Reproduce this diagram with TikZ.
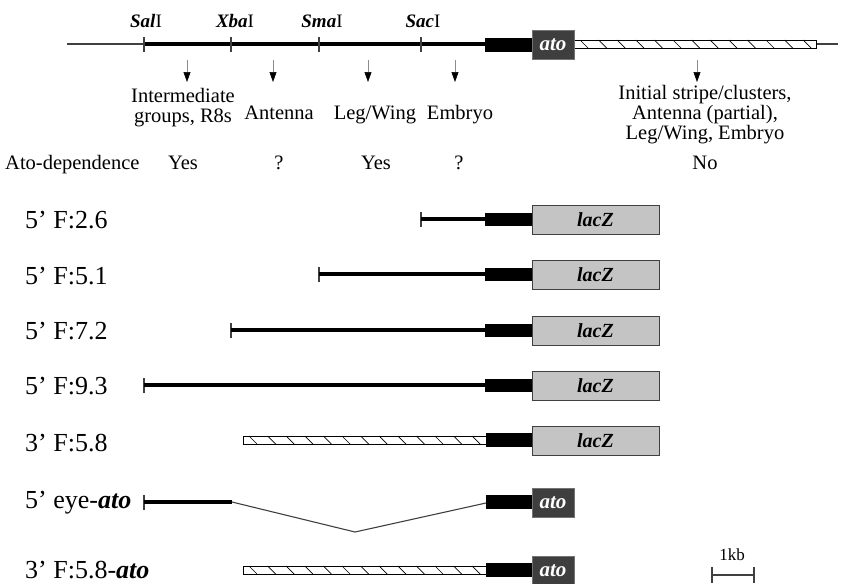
\documentclass[tikz,border=0pt]{standalone}
\usepackage{fontspec}
\setmainfont{Liberation Serif}
\usetikzlibrary{arrows.meta}

\definecolor{lacgray}{RGB}{196,196,196}
\definecolor{atogray}{RGB}{62,62,62}

\tikzset{
  smalltext/.style={font=\fontsize{20.5}{20}\selectfont, align=center, inner sep=0pt},
  bigtext/.style={font=\fontsize{26}{30}\selectfont, inner sep=0pt, anchor=base west},
  sitetext/.style={font=\fontsize{19}{20}\selectfont, inner sep=0pt, anchor=base},
  thinline/.style={line width=1.1pt, black!75},
  thickline/.style={line width=3.6pt},
  sitetick/.style={line width=1.4pt, black!75},
  lacbox/.style={draw=black!75, fill=lacgray, line width=1pt, minimum width=127pt,
                 minimum height=29pt, inner sep=0pt,
                 font=\fontsize{20}{20}\selectfont\bfseries\itshape},
  atobox/.style={draw=black!55, fill=atogray, text=white, line width=1pt, minimum width=42pt,
                 minimum height=29pt, inner sep=0pt,
                 font=\fontsize{21}{21}\selectfont\bfseries\itshape},
  featarrow/.style={black!45, line width=0.6pt, -{Triangle[black, width=7pt, length=10pt]}}
}

% hatched 3' fragment: from x=#1 to x=#2 at height #3
\newcommand{\hatchbar}[3]{%
  \draw[line width=0.8pt, fill=white] (#1,#3-4) rectangle (#2,#3+4);
  \foreach \k in {0,...,12}
    \draw[line width=0.7pt] (#1+6+\k*18.6,#3-4) -- ++(8,8);
}

\begin{document}
\begin{tikzpicture}[x=1pt, y=-1pt]
  \useasboundingbox (0,0) rectangle (847,584);

  % genomic map of the ato locus
  \draw[thinline] (67,44) -- (838,44);
  \draw[thickline] (144,44) -- (485,44);
  \foreach \x in {144,231,319,421}
    \draw[sitetick] (\x,37) -- (\x,52);
  \fill (485,38) rectangle (532,52);
  \hatchbar{574}{816}{44}
  \node[atobox] (atoTop) at (553,44.5) {ato};

  % restriction sites
  \node[sitetext] (sal) at (146,27) {\textbf{\textit{Sal}}I};
  \node[sitetext] (xba) at (235,27) {\textbf{\textit{Xba}}I};
  \node[sitetext] (sma) at (322,27) {\textbf{\textit{Sma}}I};
  \node[sitetext] (sac) at (423,27) {\textbf{\textit{Sac}}I};

  % enhancer activities
  \foreach \x in {187,273,368,455,697}
    \draw[featarrow] (\x,60) -- (\x,82);
  \node[smalltext, anchor=north] (inter) at (183,88) {Intermediate\\groups, R8s};
  \node[smalltext, anchor=base] (ant) at (279,119) {Antenna};
  \node[smalltext, anchor=base] (leg) at (375,119) {Leg/Wing};
  \node[smalltext, anchor=base] (emb) at (460,119) {Embryo};
  \node[smalltext, anchor=north] (init) at (705,85)
       {Initial stripe/clusters,\\Antenna (partial),\\Leg/Wing, Embryo};

  % ato-dependence
  \node[smalltext, anchor=base west] (dep) at (5,169) {Ato-dependence};
  \node[smalltext, anchor=base] (depA) at (183,169) {Yes};
  \node[smalltext, anchor=base] (depB) at (279,169) {?};
  \node[smalltext, anchor=base] (depC) at (376,169) {Yes};
  \node[smalltext, anchor=base] (depD) at (459,169) {?};
  \node[smalltext, anchor=base] (depE) at (705,169) {No};

  % 5' F:2.6
  \node[bigtext] (rowA) at (25,228) {5’ F:2.6};
  \draw[sitetick] (421,212) -- (421,227);
  \draw[thickline] (421,219) -- (485,219);
  \fill (485,213) rectangle (532,226);
  \node[lacbox] (lacA) at (595.5,219.5) {lacZ};

  % 5' F:5.1
  \node[bigtext] (rowB) at (25,284) {5’ F:5.1};
  \draw[sitetick] (319,267) -- (319,282);
  \draw[thickline] (319,274) -- (485,274);
  \fill (485,268) rectangle (532,281);
  \node[lacbox] (lacB) at (595.5,274.5) {lacZ};

  % 5' F:7.2
  \node[bigtext] (rowC) at (25,339) {5’ F:7.2};
  \draw[sitetick] (231,323) -- (231,338);
  \draw[thickline] (231,330) -- (485,330);
  \fill (485,324) rectangle (532,337);
  \node[lacbox] (lacC) at (595.5,330.5) {lacZ};

  % 5' F:9.3
  \node[bigtext] (rowD) at (25,394) {5’ F:9.3};
  \draw[sitetick] (144,378) -- (144,393);
  \draw[thickline] (144,385) -- (485,385);
  \fill (485,379) rectangle (532,392);
  \node[lacbox] (lacD) at (595.5,385.5) {lacZ};

  % 3' F:5.8
  \node[bigtext] (rowE) at (25,451) {3’ F:5.8};
  \hatchbar{243}{486}{440}
  \fill (486,433) rectangle (532,447);
  \node[lacbox] (lacE) at (595.5,440.5) {lacZ};

  % 5' eye-ato
  \node[bigtext] (rowF) at (25,508) {5’ eye-\textbf{\textit{ato}}};
  \draw[sitetick] (144,495) -- (144,510);
  \draw[thickline] (144,502) -- (232,502);
  \fill (486,495) rectangle (532,509);
  \coordinate (eyeEnd) at (232,502);
  \coordinate (gap) at (355,532);
  \coordinate (eyeIn) at (486,503);
  \draw[thinline] (eyeEnd) -- (gap) -- (eyeIn);
  \node[atobox] (atoF) at (553,502.5) {ato};

  % 3' F:5.8-ato
  \node[bigtext] (rowG) at (25,578) {3’ F:5.8-\textbf{\textit{ato}}};
  \hatchbar{243}{486}{570}
  \fill (486,563) rectangle (532,577);
  \node[atobox] (atoG) at (553,570.5) {ato};

  % scale bar
  \node[smalltext, anchor=base, font=\fontsize{17}{17}\selectfont] (kb) at (732,560) {1kb};
  \draw[sitetick] (712,575) -- (754,575);
  \draw[sitetick] (712,567) -- (712,583);
  \draw[sitetick] (754,567) -- (754,583);
\end{tikzpicture}
\end{document}
